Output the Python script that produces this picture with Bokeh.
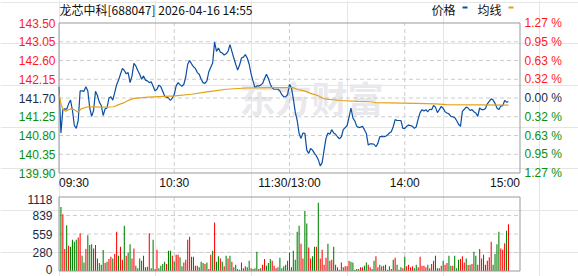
from bokeh.plotting import figure
from bokeh.models import Range1d
from bokeh.core.properties import value
from bokeh.embed import file_html
from bokeh.resources import INLINE

title_text = "龙芯中科[688047] 2026-04-16 14:55"
legend_price = "价格"
legend_avg = "均线"
watermark = "东方财富"

price_ticks = [143.50, 143.05, 142.60, 142.15, 141.70, 141.25, 140.80, 140.35, 139.90]
price_labels = ["143.50", "143.05", "142.60", "142.15", "141.70", "141.25", "140.80", "140.35", "139.90"]
pct_labels = ["1.27 %", "0.95 %", "0.63 %", "0.32 %", "0.00 %", "0.32 %", "0.63 %", "0.95 %", "1.27 %"]
label_side = ["up", "up", "up", "up", "flat", "down", "down", "down", "down"]

time_ticks = [0, 60, 120, 180, 240]
time_labels = ["09:30", "10:30", "11:30/13:00", "14:00", "15:00"]

vol_ticks = [0, 280, 559, 839, 1118]
vol_labels = ["0", "280", "559", "839", "1118"]

price = [
    141.97, 140.86, 141.42, 141.44, 141.43, 141.56, 141.65, 141.40, 141.04, 140.97,
    141.16, 141.87, 141.87, 141.86, 141.97, 141.87, 141.46, 141.26, 141.40, 141.86,
    141.76, 141.60, 141.52, 141.28, 141.44, 141.46, 141.70, 141.73, 141.65, 141.83,
    142.02, 142.13, 142.27, 142.41, 142.36, 142.28, 142.31, 142.07, 142.23, 142.53,
    142.47, 142.36, 142.27, 142.15, 142.23, 142.13, 142.11, 142.07, 142.09, 141.98,
    141.87, 141.91, 142.01, 141.97, 141.86, 141.75, 141.72, 141.70, 141.64, 141.70,
    141.78, 141.99, 142.07, 142.02, 141.98, 142.03, 142.21, 142.51, 142.60, 142.52,
    142.45, 142.41, 142.31, 142.27, 142.15, 142.07, 142.05, 142.11, 142.33, 142.44,
    142.54, 143.04, 142.82, 142.90, 142.80, 142.78, 142.73, 142.76, 142.82, 142.98,
    142.82, 142.66, 142.51, 142.37, 142.49, 142.66, 142.68, 142.74, 142.66, 142.51,
    142.28, 142.11, 141.95, 141.99, 141.99, 142.01, 142.05, 142.17, 142.27, 142.17,
    142.03, 141.94, 141.91, 141.91, 141.91, 141.87, 141.78, 141.73, 141.73, 141.78,
    142.03, 141.95, 141.68, 141.36, 141.16, 140.85, 140.73, 140.86, 140.85, 140.45,
    140.37, 140.49, 140.45, 140.37, 140.31, 140.22, 140.07, 140.15, 140.45, 140.73,
    140.86, 140.83, 140.94, 140.86, 140.83, 140.77, 140.72, 140.77, 140.94, 140.99,
    141.04, 141.24, 141.46, 141.22, 141.15, 141.02, 140.99, 141.00, 141.02, 140.94,
    140.85, 140.57, 140.60, 140.60, 140.59, 140.53, 140.61, 140.77, 140.78, 140.77,
    140.78, 140.81, 140.86, 140.89, 141.01, 141.18, 141.16, 141.16, 141.16, 140.97,
    140.97, 141.02, 141.05, 141.04, 141.02, 140.97, 141.01, 141.20, 141.35, 141.42,
    141.39, 141.42, 141.37, 141.43, 141.42, 141.52, 141.48, 141.35, 141.42, 141.50,
    141.45, 141.37, 141.34, 141.32, 141.26, 141.25, 141.23, 141.16, 141.07, 141.02,
    141.38, 141.43, 141.48, 141.46, 141.40, 141.42, 141.37, 141.34, 141.26, 141.46,
    141.42, 141.42, 141.45, 141.56, 141.62, 141.68, 141.65, 141.57, 141.46, 141.42,
    141.51, 141.51, 141.64, 141.60, 141.61,
]

avg_minute = [0, 1, 2, 3.5, 6, 8, 10, 11.5, 15, 23, 28.5, 31, 34, 36.5, 39, 46.5, 60.4,
              69, 76, 81, 87, 97.5, 111.4, 121.8, 124, 127.7, 131, 134.7, 138, 146.8,
              155.5, 162.4, 165, 185.7, 196, 202, 234]
avg_price = [141.81, 141.56, 141.43, 141.38, 141.44, 141.42, 141.36, 141.44, 141.49, 141.48,
             141.49, 141.54, 141.59, 141.65, 141.69, 141.72, 141.75, 141.79, 141.84, 141.87,
             141.91, 141.94, 141.95, 141.95, 141.91, 141.87, 141.81, 141.76, 141.68, 141.64,
             141.62, 141.61, 141.59, 141.57, 141.56, 141.54, 141.53]

volume = [
    967, 857, 331, 692, 381, 366, 471, 441, 471, 506, 571, 231, 130, 331, 541, 391, 406, 341, 391, 190,
    120, 95, 316, 120, 140, 180, 216, 190, 256, 592, 231, 366, 170, 682, 231, 281, 406, 190, 341, 80,
    40, 190, 155, 231, 55, 65, 571, 40, 471, 30, 321, 40, 80, 105, 140, 105, 306, 306, 231, 140,
    246, 246, 206, 70, 130, 170, 471, 516, 216, 216, 80, 80, 55, 140, 120, 105, 130, 30, 246, 306,
    732, 140, 221, 190, 140, 70, 231, 190, 231, 140, 55, 95, 30, 20, 130, 40, 70, 55, 155, 40,
    30, 40, 291, 30, 40, 95, 180, 80, 120, 180, 155, 80, 40, 55, 201, 40, 70, 95, 155, 281,
    55, 306, 170, 592, 682, 411, 190, 907, 717, 356, 190, 221, 366, 366, 1033, 190, 321, 95, 201, 411,
    155, 170, 366, 95, 55, 20, 130, 55, 70, 70, 155, 140, 130, 20, 30, 30, 55, 55, 80, 130,
    95, 55, 30, 155, 221, 55, 95, 70, 80, 95, 20, 70, 30, 170, 201, 95, 20, 55, 40, 216,
    70, 95, 55, 70, 40, 95, 55, 216, 80, 80, 55, 95, 40, 105, 155, 231, 40, 40, 80, 155,
    95, 120, 231, 80, 80, 231, 40, 170, 180, 221, 130, 190, 90, 95, 105, 291, 231, 95, 331, 190,
    246, 95, 155, 206, 441, 95, 256, 406, 592, 341, 321, 421, 607, 707,
]
# r = price up (red bar), g = price down (green bar)
vol_dir = (
    "grrgrggggr" "rggrgggrrg" "gggrgrrgrr" "grrgrggrrg" "gggrggrggr" "rggggrggrg"
    "rrggrrrrgg" "rrgggrgrrg" "rggrgrgrgr" "ggggrgrggr" "gggrgrrggg" "rrrgggggrg"
    "gggggrrggr" "rggrgrrrrg" "rrgrggrgrr" "rgggggrrgg" "rrggrrgrgr" "rgrgrgrgrg"
    "rrrrggrrrr" "rgrrrgggrg" "rrggrgggrr" "rgrgrggrrg" "rrrrrggggr" "rrgr"
)

TXT = {"up": "#ff1a1a", "flat": "#1a2a48", "down": "#0a900a"}
GRID = "#cccccc"
BORDER = "#999999"
FONT = "Liberation Sans"
CJK = "Noto Sans CJK SC"

W, H = 578, 276
px_x = 240 / 461.0          # minutes per pixel
px_y = 3.6 / 150.0          # price per pixel
pv = 1118 / 74.0            # volume per pixel

p = figure(width=W, height=H, toolbar_location=None, output_backend="svg",
           x_axis_location=None, y_axis_location=None,
           x_range=Range1d(-58.5 * px_x, 240 + 58.5 * px_x),
           y_range=Range1d(139.90 - 103.5 * px_y, 143.50 + 22.5 * px_y),
           min_border=0, min_border_left=0, min_border_right=0,
           min_border_top=0, min_border_bottom=0)
p.extra_y_ranges = {"vol": Range1d(-5.5 * pv, 1118 + 196.5 * pv)}
p.outline_line_color = None
p.background_fill_color = "white"
p.border_fill_color = "white"

pmin, pmax = price_ticks[-1], price_ticks[0]
t0, t1 = time_ticks[0], time_ticks[-1]
vmax = vol_ticks[-1]

# watermark
p.text(x=[94.0], y=[141.72], text=[watermark], text_font=value(CJK), text_font_size=value("36px"),
       text_font_style="bold", text_color="#e9e9ed", text_baseline="middle", text_align="left")

# price panel grid
inner_p = price_ticks[1:-1]
p.segment(x0=[t0] * len(inner_p), x1=[t1] * len(inner_p), y0=inner_p, y1=inner_p,
          line_color=GRID, line_dash="4 3", line_width=1)
inner_t = time_ticks[1:-1]
p.segment(x0=inner_t, x1=inner_t, y0=[pmin] * 3, y1=[pmax] * 3,
          line_color=GRID, line_dash="4 3", line_width=1)
# volume panel grid
inner_v = vol_ticks[1:-1]
p.segment(x0=[t0] * len(inner_v), x1=[t1] * len(inner_v), y0=inner_v, y1=inner_v,
          line_color=GRID, line_dash="4 3", line_width=1, y_range_name="vol")
p.segment(x0=inner_t, x1=inner_t, y0=[0] * 3, y1=[vmax] * 3,
          line_color=GRID, line_dash="4 3", line_width=1, y_range_name="vol")

# volume bars
bar_colors = ["#ff0000" if c == "r" else "#008000" for c in vol_dir]
p.vbar(x=[i + 1 for i in range(len(volume))], top=volume, bottom=0, width=0.55,
       fill_color=bar_colors, line_color=None, y_range_name="vol")

# lines
p.line(x=list(range(len(price))), y=price, line_color="#0b4ea2", line_width=1.2)
p.line(x=avg_minute, y=avg_price, line_color="#e2a21a", line_width=1.2)

# borders
p.quad(left=[t0], right=[t1], bottom=[pmin], top=[pmax], fill_color=None,
       line_color=BORDER, line_width=1)
p.quad(left=[t0], right=[t1], bottom=[0], top=[vmax], fill_color=None,
       line_color=BORDER, line_width=1, y_range_name="vol")

# left / right price labels
colors = [TXT[s] for s in label_side]
p.text(x=[-3.5 * px_x] * len(price_ticks), y=price_ticks, text=price_labels,
       text_align="right", text_baseline="middle", text_font=value(FONT),
       text_font_size=value("12px"), text_color=colors)
p.text(x=[240 + 4.5 * px_x] * len(price_ticks), y=price_ticks, text=pct_labels,
       text_align="left", text_baseline="middle", text_font=value(FONT),
       text_font_size=value("12px"), text_color=colors)

# time labels
ty = pmin - 9.5 * px_y
p.text(x=[time_ticks[0]], y=[ty], text=[time_labels[0]], text_align="left", text_baseline="middle",
       text_font=value(FONT), text_font_size=value("12px"), text_color="#111111")
p.text(x=time_ticks[1:-1], y=[ty] * 3, text=time_labels[1:-1], text_align="center",
       text_baseline="middle", text_font=value(FONT), text_font_size=value("12px"),
       text_color="#111111")
p.text(x=[time_ticks[-1]], y=[ty], text=[time_labels[-1]], text_align="right", text_baseline="middle",
       text_font=value(FONT), text_font_size=value("12px"), text_color="#111111")

# volume labels (end labels nudged inward so they stay inside the page)
vol_label_y = [min(max(t, 2.0 * pv), vmax - 2.0 * pv) for t in vol_ticks]
p.text(x=[-6.5 * px_x] * len(vol_ticks), y=vol_label_y, text=vol_labels, text_align="right",
       text_baseline="middle", text_font=value(FONT), text_font_size=value("12px"),
       text_color="#1a2a48", y_range_name="vol")

# title + legend
top_y = pmax + 13.5 * px_y
p.text(x=[0.5 * px_x], y=[top_y], text=[title_text], text_align="left", text_baseline="middle",
       text_font=value(CJK), text_font_size=value("12px"), text_color="#111111")
p.text(x=[(431 - 58.5) * px_x, (477 - 58.5) * px_x], y=[top_y, top_y],
       text=[legend_price, legend_avg], text_align="left", text_baseline="middle",
       text_font=value(CJK), text_font_size=value("12px"), text_color="#111111")
p.rect(x=[(464.5 - 58.5) * px_x, (510.5 - 58.5) * px_x], y=[pmax + 15.5 * px_y] * 2,
       width=5, height=2, width_units="screen", height_units="screen",
       fill_color=["#0b4ea2", "#e2a21a"], line_color=None)

open("out.html", "w").write(file_html(p, INLINE))
print(len(price), len(volume), len(vol_dir))
